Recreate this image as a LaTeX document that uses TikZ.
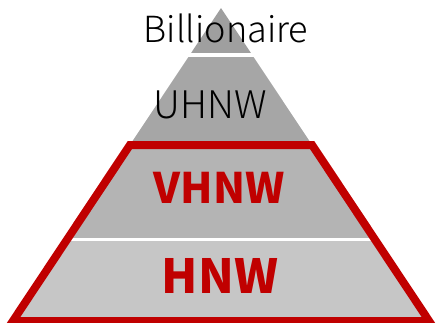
\documentclass[tikz,border=0pt]{standalone}
\usepackage{fontspec}
\setmainfont{Noto Sans CJK JP}
\newfontfamily\lightfont{Noto Sans CJK JP}[UprightFont=* Light]
\definecolor{redline}{HTML}{C00000}
\definecolor{gTop}{HTML}{9F9F9F}
\definecolor{gUH}{HTML}{A6A6A6}
\definecolor{gVH}{HTML}{B4B4B4}
\definecolor{gH}{HTML}{C6C6C6}
\begin{document}
\begin{tikzpicture}[x=1pt,y=-1pt,
  lbl/.style={anchor=base,inner sep=0pt},
  thinlbl/.style={lbl,text=black},
  boldlbl/.style={lbl,text=redline}]
\useasboundingbox (0,0) rectangle (436,322);
\begin{scope}
  \clip (221,8) -- (429.1,321) -- (12.9,321) -- cycle;
  \fill[gTop] (0,0) rectangle (436,53);
  \fill[gUH] (0,56.5) rectangle (436,145);
  \fill[gVH] (0,145) rectangle (436,238);
  \fill[gH] (0,241) rectangle (436,330);
\end{scope}
\draw[redline,line width=8pt,line join=miter] (129.9,145) -- (312.1,145) -- (429.1,321) -- (12.9,321) -- cycle;
\node[thinlbl,font=\lightfont\fontsize{36}{36}\selectfont] (bil) at (226,42) {Billionaire};
\node[thinlbl,font=\lightfont\fontsize{38}{38}\selectfont] (uhnw) at (210,118) {UHNW};
\node[boldlbl,font=\bfseries\fontsize{42}{42}\selectfont] (vhnw) at (219,203) {VHNW};
\node[boldlbl,font=\bfseries\fontsize{47}{47}\selectfont] (hnw) at (220,293) {HNW};
\end{tikzpicture}
\end{document}
